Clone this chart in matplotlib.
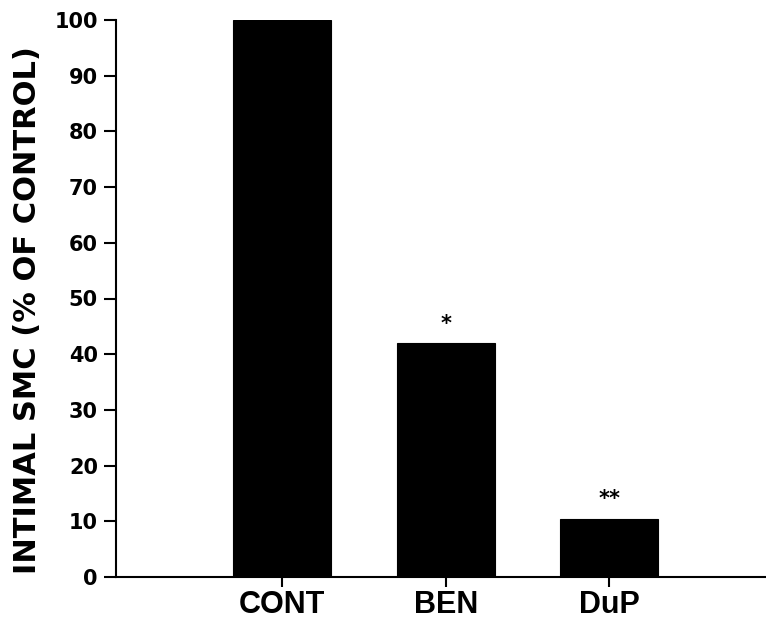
import matplotlib
matplotlib.use("Agg")
import matplotlib.pyplot as plt

categories = ["CONT", "BEN", "DuP"]
values = [100, 42, 10.4]
markers = ["", "*", "**"]
marker_y = [None, 45.5, 14.0]
yticks = [0, 10, 20, 30, 40, 50, 60, 70, 80, 90, 100]
ylabel = "INTIMAL SMC (% OF CONTROL)"

fig = plt.figure(figsize=(7.66, 6.25), dpi=100)
ax = fig.add_axes([115.5 / 766, 1 - 577 / 625, (766 - 115.5) / 766, (577 - 20) / 625])

x = list(range(len(categories)))
ax.bar(x, values, width=0.6, color="black", edgecolor="black", linewidth=0.8)

for xi, m, my in zip(x, markers, marker_y):
    if m:
        ax.text(xi, my, m, ha="center", va="center", fontsize=15,
                fontweight="bold", family="DejaVu Sans", color="black")

ax.set_xlim(-1.02, 2.96)
ax.set_ylim(0, 100)
ax.set_yticks(yticks)
ax.set_yticklabels([str(t) for t in yticks], family="DejaVu Sans",
                   fontweight="bold", fontsize=15)
ax.set_xticks(x)
ax.set_xticklabels(categories, family="Liberation Sans", fontweight="bold",
                   fontsize=22)

for s in ["top", "right"]:
    ax.spines[s].set_visible(False)
for s in ["left", "bottom"]:
    ax.spines[s].set_linewidth(1.5)

ax.tick_params(axis="y", direction="out", length=8.6, width=1.5, pad=4)
ax.tick_params(axis="x", direction="out", length=7.2, width=1.5, pad=2)

ax.set_ylabel(ylabel, family="DejaVu Sans", fontweight="bold", fontsize=22)
ax.yaxis.set_label_coords((42 - 115.5) / (766 - 115.5), (577 - 310) / 557)

fig.savefig("out.png", dpi=100)
